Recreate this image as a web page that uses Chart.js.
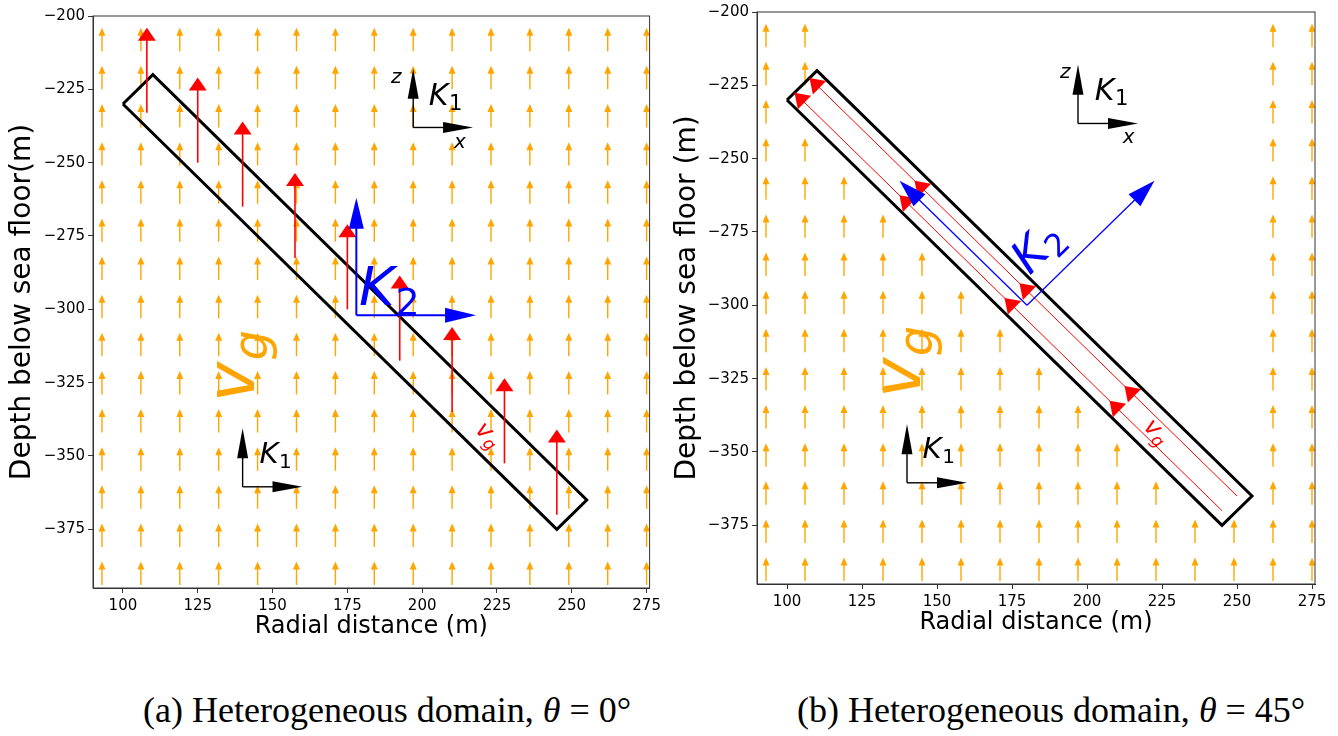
<!DOCTYPE html>
<html lang="en">
<head>
<meta charset="UTF-8" />
<title>Heterogeneous domain</title>
<script src="https://cdn.jsdelivr.net/npm/chart.js"></script>
<style>
  body {
    margin: 0;
    background: #fff;
    width: 1338px;
    height: 736px;
    overflow: hidden;
    position: relative;
  }
  canvas { position: absolute; top: 0; }
  #chartA { left: 0; }
  #chartB { left: 665px; }
  .caption {
    position: absolute;
    top: 692px;
    font-family: "Liberation Serif", serif;
    font-size: 36px;
    line-height: 36px;
    white-space: nowrap;
    color: #000;
  }
</style>
</head>
<body>
  <canvas id="chartA" width="665" height="650"></canvas>
  <canvas id="chartB" width="673" height="646"></canvas>
  <div class="caption" style="left:143px">(a) Heterogeneous domain, <i>θ</i> = 0°</div>
  <div class="caption" style="left:797px">(b) Heterogeneous domain, <i>θ</i> = 45°</div>

<script>
// axis ticks
const xTicks = [100, 125, 150, 175, 200, 225, 250, 275];
const yTicks = [-200, -225, -250, -275, -300, -325, -350, -375];

// orange v_g field, tails on a regular grid
const gridX = [93, 106, 119, 132, 145, 158, 171, 184, 197, 210, 223, 236, 249, 262, 275];
const gridY = [-212, -225, -238, -251, -264, -277, -290, -303, -316, -329, -342, -355, -368, -381, -394];
const fieldLen = 8;
// panel (b): for each row, first column left out (left out up to column 12)
const gapStartB = [2, 2, 1, 2, 3, 4, 5, 6, 7, 8, 9, 10, 11, 13, 13];
const gapEndB = 12;

// fracture outline
const fracX = [100, 110, 255, 245, 100];
const fracY = [-230, -220, -365, -375, -230];

// panel (a): red vertical v_g arrows inside the fracture
const redTailX = [108, 125, 140, 157.5, 175, 192.5, 210, 227.5, 245];
const redTailY = [-233, -250, -265, -282.5, -300, -317.5, -335, -352.5, -370];
const redLen = 29;

// panel (b): red flow lines along the fracture and their heads
const flowUX = [107.5, 250];
const flowUY = [-222.5, -365];
const flowLX = [102.5, 245];
const flowLY = [-227.5, -370];
const headUX = [107.5, 142.5, 177.5, 212.5];
const headUY = [-222.5, -257.5, -292.5, -327.5];
const headLX = [102.5, 137.5, 172.5, 207.5];
const headLY = [-227.5, -262.5, -297.5, -332.5];

function pts(xs, ys) { return xs.map((x, i) => ({ x: x, y: ys[i] })); }

function arrow(ctx, x0, y0, x1, y1, o) {
  const dx = x1 - x0, dy = y1 - y0, L = Math.hypot(dx, dy);
  const ux = dx / L, uy = dy / L;
  const hl = Math.min(o.hl, L), hw = o.hw / 2;
  const bx = x1 - ux * hl, by = y1 - uy * hl;
  ctx.strokeStyle = o.color;
  ctx.fillStyle = o.color;
  if (o.lw) {
    ctx.lineWidth = o.lw;
    ctx.beginPath();
    ctx.moveTo(x0, y0);
    ctx.lineTo(bx + ux, by + uy);
    ctx.stroke();
  }
  ctx.beginPath();
  ctx.moveTo(x1, y1);
  ctx.lineTo(bx - uy * hw, by + ux * hw);
  ctx.lineTo(bx + uy * hw, by - ux * hw);
  ctx.closePath();
  ctx.fill();
}

function mathLabel(ctx, p, rot, main, sub, size, color, subItalic) {
  ctx.save();
  ctx.translate(p[0], p[1]);
  ctx.rotate(rot);
  ctx.fillStyle = color;
  ctx.textAlign = 'left';
  ctx.textBaseline = 'alphabetic';
  ctx.font = 'italic ' + size + 'px "DejaVu Sans"';
  ctx.fillText(main, 0, 0);
  const w = ctx.measureText(main).width;
  if (sub) {
    ctx.font = (subItalic ? 'italic ' : '') + Math.round(size * 0.7) + 'px "DejaVu Sans"';
    ctx.fillText(sub, w + size * 0.02, size * 0.18);
  }
  ctx.restore();
}

function buildPanel(id, cfg) {
  const fieldPlugin = {
    id: 'field',
    beforeDatasetsDraw(chart) {
      const { ctx, chartArea: a, scales: { x, y } } = chart;
      ctx.save();
      ctx.beginPath();
      ctx.rect(a.left, a.top, a.right - a.left, a.bottom - a.top);
      ctx.clip();
      gridY.forEach((gy, r) => {
        gridX.forEach((gx, c) => {
          if (cfg.gap && c >= cfg.gap[r] && c <= gapEndB) return;
          arrow(ctx, x.getPixelForValue(gx), y.getPixelForValue(gy),
                x.getPixelForValue(gx), y.getPixelForValue(gy + fieldLen),
                { color: '#FFA500', lw: 1.4, hl: 8, hw: 7 });
        });
      });
      ctx.restore();
    }
  };

  const markPlugin = {
    id: 'marks',
    afterDatasetsDraw(chart) {
      const { ctx, chartArea: a, scales: { x, y } } = chart;
      const P = (vx, vy) => [x.getPixelForValue(vx), y.getPixelForValue(vy)];
      ctx.save();

      if (cfg.mode === 'a') {
        redTailX.forEach((tx, i) => {
          const t = P(tx, redTailY[i]), h = P(tx, redTailY[i] + redLen);
          arrow(ctx, t[0], t[1], h[0], h[1], { color: '#ff0000', lw: 1.6, hl: 13, hw: 18 });
        });
        const o = P(cfg.k2[0], cfg.k2[1]);
        const up = P(cfg.k2[0], cfg.k2[1] + cfg.k2Len);
        const rt = P(cfg.k2[0] + cfg.k2Len, cfg.k2[1]);
        arrow(ctx, o[0], o[1], up[0], up[1], { color: '#0000ff', lw: 2, hl: 31, hw: 15 });
        arrow(ctx, o[0], o[1], rt[0], rt[1], { color: '#0000ff', lw: 2, hl: 31, hw: 15 });
      } else {
        const heads = [[headUX, headUY], [headLX, headLY]];
        heads.forEach(([hx, hy]) => {
          hx.forEach((vx, i) => {
            const tip = P(vx, hy[i]), back = P(vx + 5, hy[i] - 5);
            arrow(ctx, back[0], back[1], tip[0], tip[1], { color: '#ff0000', lw: 0, hl: 14, hw: 19 });
          });
        });
        const o = P(cfg.k2[0], cfg.k2[1]);
        const ul = P(cfg.k2[0] - cfg.k2Len, cfg.k2[1] + cfg.k2Len);
        const ur = P(cfg.k2[0] + cfg.k2Len, cfg.k2[1] + cfg.k2Len);
        arrow(ctx, o[0], o[1], ul[0], ul[1], { color: '#0000ff', lw: 1.3, hl: 28, hw: 17 });
        arrow(ctx, o[0], o[1], ur[0], ur[1], { color: '#0000ff', lw: 1.3, hl: 28, hw: 17 });
      }

      // K1 frames
      cfg.k1.forEach(k => {
        const o = P(k[0], k[1]);
        const up = P(k[0], k[1] + 20), rt = P(k[0] + 20, k[1]);
        arrow(ctx, o[0], o[1], up[0], up[1], { color: '#000', lw: 1.4, hl: 30, hw: 11 });
        arrow(ctx, o[0], o[1], rt[0], rt[1], { color: '#000', lw: 1.4, hl: 30, hw: 11 });
      });

      const L = cfg.labels;
      mathLabel(ctx, P(...L.z), 0, 'z', '', 20, '#000');
      mathLabel(ctx, P(...L.x), 0, 'x', '', 20, '#000');
      mathLabel(ctx, P(...L.k1u), 0, 'K', '1', 30, '#000', false);
      mathLabel(ctx, P(...L.k1l), 0, 'K', '1', 29, '#000', false);
      mathLabel(ctx, P(L.k2[0], L.k2[1]), L.k2[2], 'K', '2', L.k2[3], '#0000ff', false);
      mathLabel(ctx, P(...L.vgBig), -Math.PI / 2, 'v', 'g', 68, '#FFA500', true);
      mathLabel(ctx, P(...L.vgRed), Math.PI / 4, 'v', 'g', 24, '#ff0000', true);

      // top and right spines
      ctx.strokeStyle = '#333';
      ctx.lineWidth = 1;
      ctx.strokeRect(a.left, a.top, a.right - a.left, a.bottom - a.top);
      ctx.restore();
    }
  };

  const datasets = [{
    data: pts(fracX, fracY),
    showLine: true, borderColor: '#000', borderWidth: 3, pointRadius: 0, tension: 0
  }];
  if (cfg.mode === 'b') {
    datasets.unshift(
      { data: pts(flowUX, flowUY), showLine: true, borderColor: '#ff0000', borderWidth: 1, pointRadius: 0 },
      { data: pts(flowLX, flowLY), showLine: true, borderColor: '#ff0000', borderWidth: 1, pointRadius: 0 }
    );
  }

  const tickFont = { family: '"DejaVu Sans"', size: 15 };
  new Chart(document.getElementById(id), {
    type: 'scatter',
    data: { datasets: datasets },
    options: {
      responsive: false,
      animation: false,
      layout: { padding: cfg.pad },
      plugins: { legend: { display: false }, tooltip: { enabled: false } },
      scales: {
        x: {
          type: 'linear', position: 'bottom', min: 90, max: 276,
          afterBuildTicks: s => { s.ticks = xTicks.map(v => ({ value: v })); },
          afterFit: s => { s.height = 62; },
          grid: { drawOnChartArea: false, tickLength: 5, color: '#333' },
          border: { display: true, color: '#333' },
          ticks: { font: tickFont, color: '#000', padding: 4, maxRotation: 0, autoSkip: false },
          title: { display: true, text: 'Radial distance (m)', color: '#000',
                   font: { family: '"DejaVu Sans"', size: 24 }, padding: { top: 0, bottom: 9 } }
        },
        y: {
          type: 'linear', position: 'left', min: -395, max: -200,
          afterBuildTicks: s => { s.ticks = yTicks.map(v => ({ value: v })); },
          afterFit: s => { s.width = cfg.yWidth; },
          grid: { drawOnChartArea: false, tickLength: 5, color: '#333' },
          border: { display: true, color: '#333' },
          ticks: { font: tickFont, color: '#000', padding: 3,
                   callback: v => String(v).replace('-', '\u2212') },
          title: { display: true, text: cfg.yTitle, color: '#000',
                   font: { family: '"DejaVu Sans"', size: 28 }, padding: { top: 6, bottom: 0 } }
        }
      }
    },
    plugins: [fieldPlugin, markPlugin]
  });
}

buildPanel('chartA', {
  mode: 'a',
  yTitle: 'Depth below sea floor(m)',
  pad: { top: 16, right: 14, left: 0, bottom: 0 },
  yWidth: 93,
  gap: null,
  k2: [178, -302], k2Len: 40,
  k1: [[197, -238], [140, -360.5]],
  labels: {
    z: [189.6, -222.8], x: [210.6, -245], k1u: [202.2, -230.3], k1l: [145.6, -352.4],
    k2: [178.9, -298.5, 0, 54], vgBig: [143.9, -331.6], vgRed: [217.4, -341.4]
  }
});

buildPanel('chartB', {
  mode: 'b',
  yTitle: 'Depth below sea floor (m)',
  pad: { top: 12, right: 23, left: 0, bottom: 0 },
  yWidth: 92,
  gap: gapStartB,
  k2: [180, -300], k2Len: 42.5,
  k1: [[197, -238], [140, -360.5]],
  labels: {
    z: [191, -222.4], x: [211.9, -244.6], k1u: [202.6, -229.9], k1l: [145.2, -352.1],
    k2: [180.9, -289.9, -Math.PI / 4, 46], vgBig: [144.2, -331.5], vgRed: [218.5, -341.7]
  }
});
</script>
</body>
</html>
